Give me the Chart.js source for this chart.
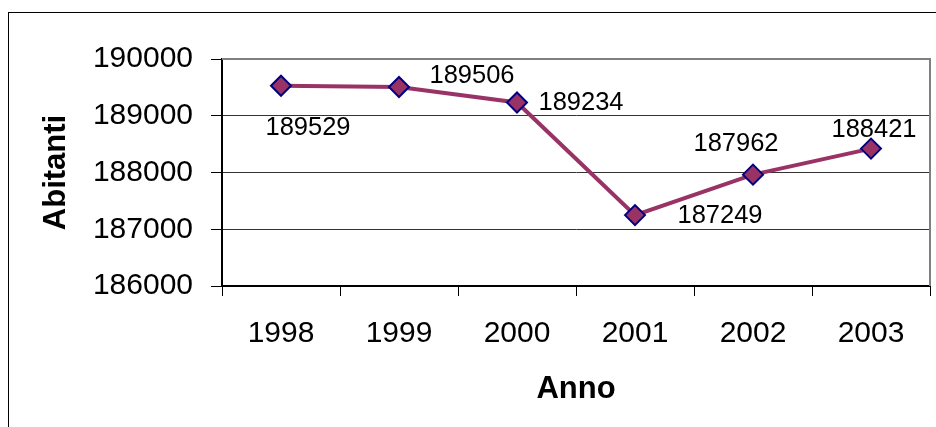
<!DOCTYPE html>
<html>
<head>
<meta charset="utf-8">
<script src="https://cdn.jsdelivr.net/npm/chart.js@4/dist/chart.umd.min.js"></script>
<style>
html,body{margin:0;padding:0;background:#fff;}
canvas{display:block;}
</style>
</head>
<body>
<canvas id="c" width="936" height="427"></canvas>
<script>
const years = ['1998', '1999', '2000', '2001', '2002', '2003'];
const abitanti = [189529, 189506, 189234, 187249, 187962, 188421];
const yMin = 186000;
const yMax = 190000;
const yStep = 1000;

const FONT = "'Liberation Sans', Arial, sans-serif";

const framePlugin = {
  id: 'frame',
  beforeDraw(chart) {
    const ctx = chart.ctx;
    ctx.save();
    ctx.fillStyle = '#fff';
    ctx.fillRect(0, 0, chart.width, chart.height);
    ctx.strokeStyle = '#000';
    ctx.lineWidth = 1;
    ctx.strokeRect(8.5, 12.5, 2000, 2000);
    ctx.restore();
  },
  beforeDatasetsDraw(chart) {
    const a = chart.chartArea;
    const ctx = chart.ctx;
    ctx.save();
    ctx.strokeStyle = '#808080';
    ctx.lineWidth = 2;
    ctx.beginPath();
    ctx.moveTo(a.left, a.top);
    ctx.lineTo(a.right, a.top);
    ctx.lineTo(a.right, a.bottom);
    ctx.stroke();
    ctx.restore();
  }
};

const labelPlugin = {
  id: 'valueLabels',
  afterDatasetsDraw(chart, args, opts) {
    const ctx = chart.ctx;
    const meta = chart.getDatasetMeta(0);
    const data = chart.data.datasets[0].data;
    ctx.save();
    ctx.font = opts.font;
    ctx.fillStyle = '#000';
    ctx.textAlign = 'center';
    ctx.textBaseline = 'middle';
    meta.data.forEach((pt, i) => {
      const off = opts.offsets[i] || [0, 0];
      ctx.fillText(String(data[i]), pt.x + off[0], pt.y + off[1]);
    });
    ctx.restore();
  }
};

new Chart(document.getElementById('c'), {
  type: 'line',
  data: {
    labels: years,
    datasets: [{
      data: abitanti,
      borderColor: '#993366',
      borderWidth: 4,
      pointStyle: 'rectRot',
      pointRadius: 10,
      pointHoverRadius: 10,
      pointBackgroundColor: '#993366',
      pointBorderColor: '#000080',
      pointBorderWidth: 2,
      tension: 0
    }]
  },
  options: {
    responsive: false,
    animation: false,
    events: [],
    layout: { autoPadding: false, padding: { left: 0, right: 6, top: 59, bottom: 0 } },
    plugins: {
      legend: { display: false },
      tooltip: { enabled: false },
      valueLabels: {
        font: "25.5px " + FONT,
        offsets: [[27, 42], [73, -11], [64, 0], [85, 1], [-17, -31], [3, -19]]
      }
    },
    scales: {
      x: {
        type: 'category',
        offset: true,
        afterFit(s) { s.height = 141; s.paddingLeft = 0; s.paddingRight = 0; },
        grid: {
          offset: true,
          drawOnChartArea: false,
          drawTicks: true,
          tickLength: 10,
          tickColor: '#000',
          tickWidth: 1
        },
        border: { display: true, color: '#000', width: 2 },
        ticks: {
          color: '#000',
          font: { family: FONT, size: 30 },
          padding: 20,
          maxRotation: 0,
          autoSkip: false
        },
        title: {
          display: true,
          text: 'Anno',
          color: '#000',
          font: { family: FONT, size: 31, weight: 'bold', lineHeight: 1.2 },
          padding: { top: 0, bottom: 19 }
        }
      },
      y: {
        min: yMin,
        max: yMax,
        afterFit(s) { s.width = 222; s.paddingTop = 0; s.paddingBottom = 0; },
        grid: {
          color: '#333',
          lineWidth: 1,
          drawTicks: true,
          tickLength: 11,
          tickColor: '#000',
          tickWidth: 1
        },
        border: { display: true, color: '#000', width: 2 },
        ticks: {
          stepSize: yStep,
          color: '#000',
          font: { family: FONT, size: 30 },
          padding: 18,
          callback: v => String(v)
        },
        title: {
          display: true,
          text: 'Abitanti',
          color: '#000',
          font: { family: FONT, size: 31, weight: 'bold', lineHeight: 1.2 },
          padding: { top: 38, bottom: 0 }
        }
      }
    }
  },
  plugins: [framePlugin, labelPlugin]
});
</script>
</body>
</html>
